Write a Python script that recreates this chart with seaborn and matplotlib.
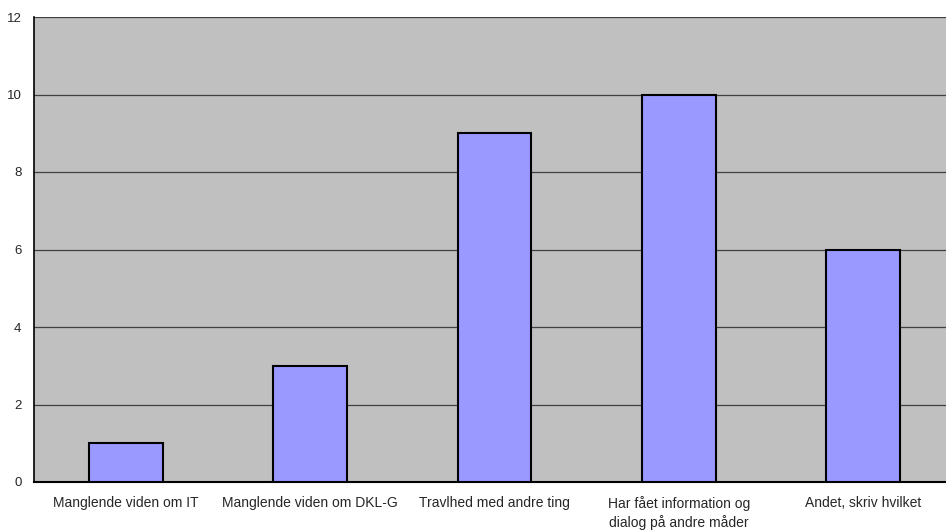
import matplotlib
matplotlib.use("Agg")
import matplotlib.pyplot as plt
import seaborn as sns
import pandas as pd
import numpy as np

categories = [
    "Manglende viden om IT",
    "Manglende viden om DKL-G",
    "Travlhed med andre ting",
    "Har fået information og\ndialog på andre måder",
    "Andet, skriv hvilket",
]
counts = [1, 3, 9, 10, 6]
y_ticks = [0, 2, 4, 6, 8, 10, 12]

df = pd.DataFrame({"kategori": categories, "antal": counts})

sns.set_style("white")
plt.rcParams["font.family"] = ["Liberation Sans", "DejaVu Sans"]

fig = plt.figure(figsize=(9.46, 5.31), dpi=100)
# plot area runs slightly past the right edge of the canvas
ax = fig.add_axes([34 / 946, 1 - 482 / 531, (955 - 34) / 946, (482 - 17) / 531])
ax.set_facecolor("#C0C0C0")

sns.barplot(data=df, x="kategori", y="antal", color="#9999FF", width=0.4,
            edgecolor="black", linewidth=1.5, saturation=1, ax=ax, zorder=3)

ax.set_ylim(0, 12)
ax.set_xlim(-0.5, len(categories) - 0.5)
ax.set_yticks(y_ticks)
ax.set_yticklabels([str(v) for v in y_ticks], fontsize=9.5)
ax.yaxis.grid(True, color="#404040", linewidth=0.9, zorder=0)
ax.set_axisbelow(True)

# category labels centred, tick marks at category boundaries
ax.set_xticks(range(len(categories)))
ax.set_xticklabels(categories, fontsize=10, linespacing=1.35)
ax.tick_params(axis="x", length=0, pad=10)
ax.set_xticks(np.arange(-0.5, len(categories), 1.0), minor=True)
ax.tick_params(axis="x", which="minor", length=5, width=1, color="black", direction="out")
ax.tick_params(axis="y", length=5, width=1, color="black", direction="out", pad=4)

for side in ["top", "right"]:
    ax.spines[side].set_visible(False)
ax.spines["left"].set_color("black")
ax.spines["left"].set_linewidth(1.2)
ax.spines["bottom"].set_color("black")
ax.spines["bottom"].set_linewidth(1.5)

ax.set_xlabel("")
ax.set_ylabel("")

fig.savefig("out.png", dpi=100, facecolor="white")
